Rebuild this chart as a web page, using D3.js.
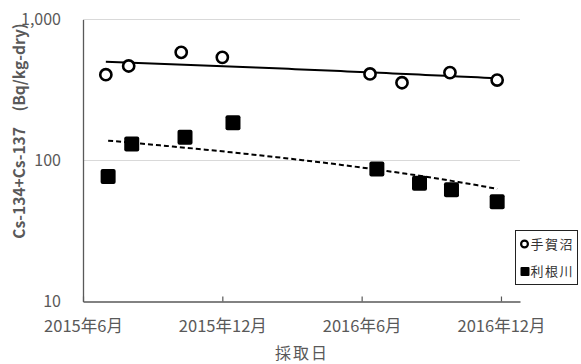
<!DOCTYPE html>
<html>
<head>
<meta charset="utf-8">
<script src="https://cdn.jsdelivr.net/npm/d3@7/dist/d3.min.js"></script>
<style>
  html, body { margin: 0; padding: 0; background: #fff; }
  svg { display: block; }
  text { font-family: "Noto Sans CJK JP", "Noto Sans", sans-serif; }
</style>
</head>
<body>
<svg id="chart" width="581" height="364"></svg>
<script>
// Sampling dates and Cs-134+Cs-137 concentrations (Bq/kg-dry)
const teganumaDates = ["2015-07-01", "2015-07-31", "2015-10-08", "2015-12-01",
                       "2016-06-12", "2016-07-24", "2016-09-25", "2016-11-26"];
const teganumaValues = [406, 468, 585, 539, 411, 356, 420, 372];

const toneDates = ["2015-07-04", "2015-08-04", "2015-10-13", "2015-12-15",
                   "2016-06-21", "2016-08-16", "2016-09-27", "2016-11-26"];
const toneValues = [77, 131, 146, 185, 87, 69, 62, 51];

const seriesNames = ["手賀沼", "利根川"];
const xTickDates = ["2015-06-01", "2015-12-01", "2016-06-01", "2016-12-01"];
const xDomain = ["2015-06-01", "2016-12-26"];
const yTickValues = [10, 100, 1000];
const yTitle = "Cs-134+Cs-137　(Bq/kg-dry)";
const xTitle = "採取日";

const parse = d3.utcParse("%Y-%m-%d");
const grey = "#595959";

const plot = { left: 83, right: 520, top: 19.5, bottom: 301.5 };

const svg = d3.select("#chart");

const x = d3.scaleUtc()
  .domain(xDomain.map(parse))
  .range([plot.left, plot.right]);

const y = d3.scaleLog()
  .domain([10, 1000])
  .range([plot.bottom, plot.top]);

// horizontal gridlines
svg.append("g")
  .selectAll("line")
  .data(yTickValues.filter(v => v > 10))
  .join("line")
  .attr("x1", plot.left).attr("x2", plot.right)
  .attr("y1", d => y(d)).attr("y2", d => y(d))
  .attr("stroke", "#d9d9d9").attr("stroke-width", 1);

// y axis
const yAxis = svg.append("g")
  .attr("transform", `translate(${plot.left},0)`)
  .call(d3.axisLeft(y).tickValues(yTickValues).tickFormat(d3.format(",")).tickSize(0).tickPadding(22));
yAxis.select(".domain").attr("stroke", grey).attr("stroke-width", 1.3);
yAxis.selectAll("text").attr("fill", grey).style("font-size", "16px");

// x axis with inward tick marks
const xAxis = svg.append("g")
  .attr("transform", `translate(0,${plot.bottom})`)
  .call(d3.axisBottom(x)
    .tickValues(xTickDates.map(parse))
    .tickFormat(d3.utcFormat("%Y年%-m月"))
    .tickSizeInner(-5).tickSizeOuter(0).tickPadding(19));
xAxis.select(".domain").attr("stroke", grey).attr("stroke-width", 1.3);
xAxis.selectAll(".tick line").attr("stroke", grey).attr("stroke-width", 1.2);
xAxis.selectAll("text").attr("fill", grey).style("font-size", "16.5px");

// linear least-squares trend (value vs. date), drawn over each series' date span
function trendPoints(dates, values) {
  const xs = dates.map(d => +parse(d));
  const n = xs.length;
  const mx = d3.mean(xs), my = d3.mean(values);
  let sxy = 0, sxx = 0;
  for (let i = 0; i < n; i++) {
    sxy += (xs[i] - mx) * (values[i] - my);
    sxx += (xs[i] - mx) ** 2;
  }
  const slope = sxy / sxx;
  const [x0, x1] = d3.extent(xs);
  return d3.range(0, 61).map(i => {
    const t = x0 + (x1 - x0) * i / 60;
    return [t, my + slope * (t - mx)];
  });
}

const trendLine = d3.line().x(d => x(new Date(d[0]))).y(d => y(d[1]));

svg.append("path")
  .attr("d", trendLine(trendPoints(teganumaDates, teganumaValues)))
  .attr("fill", "none").attr("stroke", "#000").attr("stroke-width", 2);

svg.append("path")
  .attr("d", trendLine(trendPoints(toneDates, toneValues)))
  .attr("fill", "none").attr("stroke", "#000").attr("stroke-width", 2)
  .attr("stroke-dasharray", "5,3");

// 利根川: filled squares
const sq = 15;
svg.append("g")
  .selectAll("rect")
  .data(toneDates.map((d, i) => ({ date: parse(d), value: toneValues[i] })))
  .join("rect")
  .attr("x", d => x(d.date) - sq / 2)
  .attr("y", d => y(d.value) - sq / 2)
  .attr("width", sq).attr("height", sq)
  .attr("rx", 2)
  .attr("fill", "#000");

// 手賀沼: open circles
svg.append("g")
  .selectAll("circle")
  .data(teganumaDates.map((d, i) => ({ date: parse(d), value: teganumaValues[i] })))
  .join("circle")
  .attr("cx", d => x(d.date))
  .attr("cy", d => y(d.value))
  .attr("r", 5.6)
  .attr("fill", "#fff")
  .attr("stroke", "#000")
  .attr("stroke-width", 2.6);

// axis titles
svg.append("text")
  .attr("transform", "translate(25,131) rotate(-90)")
  .attr("text-anchor", "middle")
  .attr("fill", grey)
  .style("font-size", "15.5px")
  .style("font-weight", "bold")
  .text(yTitle);

svg.append("text")
  .attr("x", (plot.left + plot.right) / 2 + 0.5)
  .attr("y", 359)
  .attr("text-anchor", "middle")
  .attr("fill", grey)
  .style("font-size", "16px")
  .style("letter-spacing", "2px")
  .text(xTitle);

// legend
const legend = svg.append("g");
legend.append("rect")
  .attr("x", 515.5).attr("y", 230.5)
  .attr("width", 62).attr("height", 54)
  .attr("fill", "#fff").attr("stroke", "#222").attr("stroke-width", 1);

const rowY = [244, 271.5];
legend.append("circle")
  .attr("cx", 524.5).attr("cy", rowY[0]).attr("r", 3.4)
  .attr("fill", "#fff").attr("stroke", "#000").attr("stroke-width", 2.2);
legend.append("rect")
  .attr("x", 520.5).attr("y", rowY[1] - 4.5).attr("width", 9).attr("height", 9)
  .attr("rx", 1).attr("fill", "#000");

legend.selectAll("text")
  .data(seriesNames)
  .join("text")
  .attr("x", 530.5)
  .attr("y", (d, i) => rowY[i])
  .attr("dy", "0.35em")
  .attr("fill", "#333")
  .style("font-size", "13px")
  .style("letter-spacing", "1.5px")
  .text(d => d);
</script>
</body>
</html>
